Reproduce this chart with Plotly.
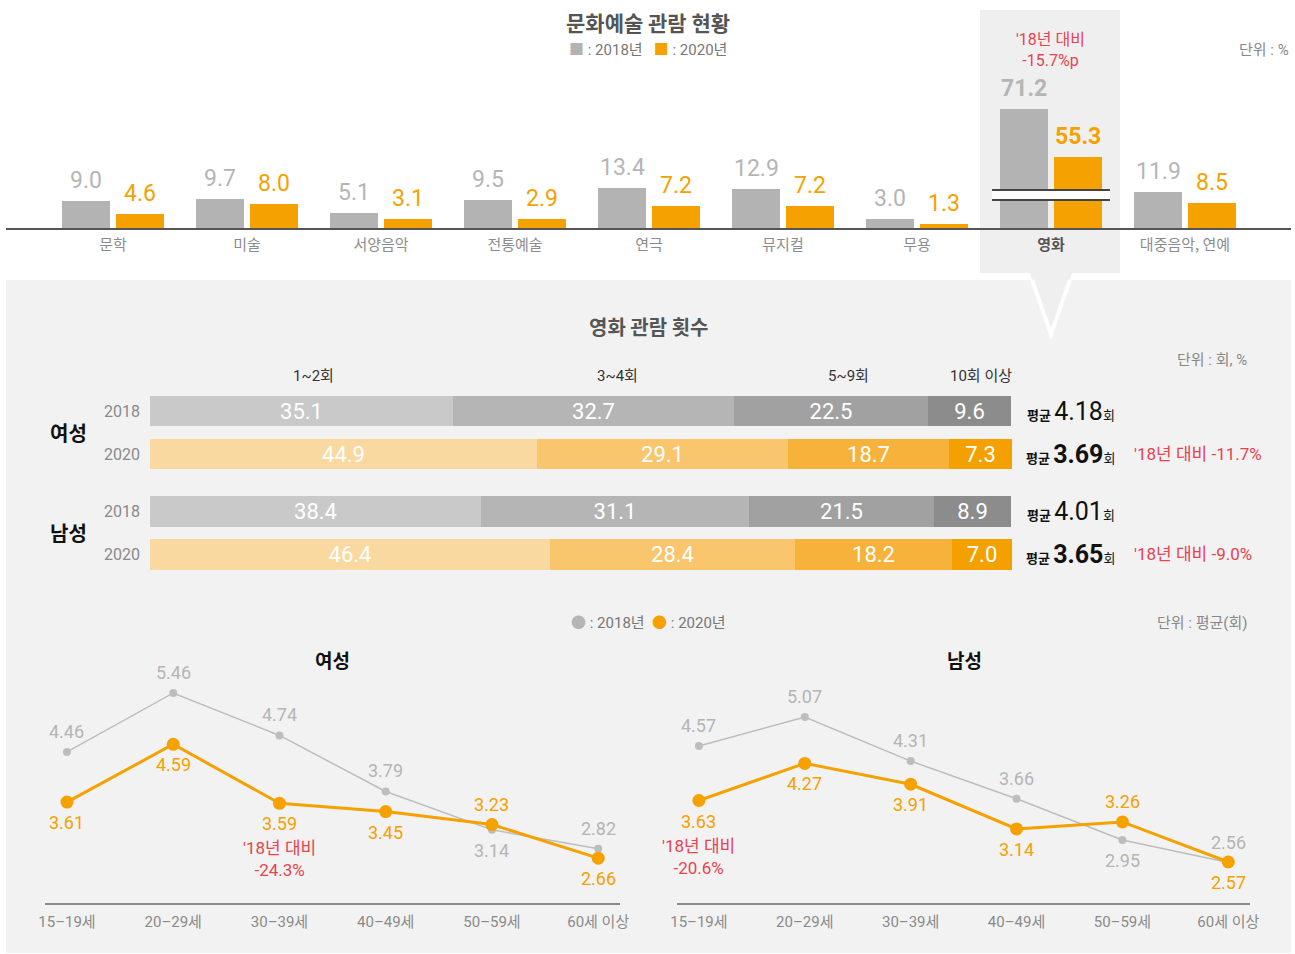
import plotly.graph_objects as go

W, H = 1295, 954

# ---------------- data ----------------
ARTS_CATEGORIES = ["문학", "미술", "서양음악", "전통예술", "연극", "뮤지컬", "무용", "영화", "대중음악, 연예"]
ARTS_2018 = [9.0, 9.7, 5.1, 9.5, 13.4, 12.9, 3.0, 71.2, 11.9]
ARTS_2020 = [4.6, 8.0, 3.1, 2.9, 7.2, 7.2, 1.3, 55.3, 8.5]
HIGHLIGHT = "영화"
HIGHLIGHT_NOTE = "'18년 대비<br>-15.7%p"
BREAK_CUT = 31.6  # amount removed by the axis break for the highlighted category

FREQ_BINS = ["1~2회", "3~4회", "5~9회", "10회 이상"]
GENDERS = ["여성", "남성"]
YEARS = ["2018", "2020"]
FREQ_FEMALE_2018 = [35.1, 32.7, 22.5, 9.6]
FREQ_FEMALE_2020 = [44.9, 29.1, 18.7, 7.3]
FREQ_MALE_2018 = [38.4, 31.1, 21.5, 8.9]
FREQ_MALE_2020 = [46.4, 28.4, 18.2, 7.0]
AVG_FEMALE = [4.18, 3.69]
AVG_MALE = [4.01, 3.65]
AVG_CHANGE_FEMALE = "'18년 대비 -11.7%"
AVG_CHANGE_MALE = "'18년 대비 -9.0%"

AGE_GROUPS = ["15–19세", "20–29세", "30–39세", "40–49세", "50–59세", "60세 이상"]
AGE_FEMALE_2018 = [4.46, 5.46, 4.74, 3.79, 3.14, 2.82]
AGE_FEMALE_2020 = [3.61, 4.59, 3.59, 3.45, 3.23, 2.66]
AGE_MALE_2018 = [4.57, 5.07, 4.31, 3.66, 2.95, 2.56]
AGE_MALE_2020 = [3.63, 4.27, 3.91, 3.14, 3.26, 2.57]
AGE_NOTE_FEMALE = (2, "'18년 대비<br>-24.3%")
AGE_NOTE_MALE = (0, "'18년 대비<br>-20.6%")

# ---------------- style ----------------
GRAY = "#b3b3b3"
ORANGE = "#f5a100"
RED = "#e8434f"
LBL_GRAY = "#b5b5b5"
GRAY_SHADES = ["#c9c9c9", "#b5b5b5", "#a1a1a1", "#8c8c8c"]
ORANGE_SHADES = ["#fad9a0", "#f9c66d", "#f6b23a", "#f4a100"]
NUM = "Roboto, 'Noto Sans CJK KR', sans-serif"
KR = "'Noto Sans CJK KR', 'Noto Sans', sans-serif"

F18_POS = [1, 1, 1, 1, -1, 1]
F20_POS = [-1, -1, -1, -1, 1, -1]
M18_POS = [1, 1, 1, 1, -1, 1]
M20_POS = [-1, -1, -1, -1, 1, -1]


def pxx(p):
    return p / W


def pxy(p):
    return 1 - p / H


def note(text, x, y, xref="paper", yref="paper", xanchor="center", yanchor="middle", size=15,
         color="#888888", family=NUM, **kw):
    d = dict(text=text, x=x, y=y, xref=xref, yref=yref, xanchor=xanchor, yanchor=yanchor,
             showarrow=False, font=dict(family=family, size=size, color=color))
    d.update(kw)
    return d


fig = go.Figure()
ann = []
shapes = []

# ---------------- top chart ----------------
n = len(ARTS_CATEGORIES)
idx = list(range(n))
hi = ARTS_CATEGORIES.index(HIGHLIGHT)
disp18 = [v - BREAK_CUT if c == HIGHLIGHT else v for c, v in zip(ARTS_CATEGORIES, ARTS_2018)]
disp20 = [v - BREAK_CUT if c == HIGHLIGHT else v for c, v in zip(ARTS_CATEGORIES, ARTS_2020)]
OFF = 0.2015
BW = 0.358
x18 = [i - OFF for i in idx]
x20 = [i + OFF for i in idx]
fig.add_trace(go.Bar(x=x18, y=disp18, width=BW, marker=dict(color=GRAY, line=dict(width=0)),
                     xaxis="x", yaxis="y", hoverinfo="skip"))
fig.add_trace(go.Bar(x=x20, y=disp20, width=BW, marker=dict(color=ORANGE, line=dict(width=0)),
                     xaxis="x", yaxis="y", hoverinfo="skip"))
for i in idx:
    bold = ARTS_CATEGORIES[i] == HIGHLIGHT
    t18 = f"{ARTS_2018[i]:.1f}"
    t20 = f"{ARTS_2020[i]:.1f}"
    ann.append(note(f"<b>{t18}</b>" if bold else t18, x18[i], disp18[i], "x", "y", yanchor="bottom",
                    yshift=5, size=23, color=LBL_GRAY))
    ann.append(note(f"<b>{t20}</b>" if bold else t20, x20[i], disp20[i], "x", "y", yanchor="bottom",
                    yshift=5, size=23, color=ORANGE))

ticktext = [f"<span style='color:#555555'><b>{c}</b></span>" if c == HIGHLIGHT else c for c in ARTS_CATEGORIES]

# break marks
shapes.append(dict(type="rect", xref="x", yref="y", x0=hi - 0.44, x1=hi + 0.44, y0=9.3, y1=12.7,
                   fillcolor="white", line=dict(width=0), layer="above"))
for yy in (9.3, 12.7):
    shapes.append(dict(type="line", xref="x", yref="y", x0=hi - 0.44, x1=hi + 0.44, y0=yy, y1=yy,
                       line=dict(color="#444444", width=2), layer="above"))

# highlight box, lower panel & pointer
shapes.append(dict(type="rect", xref="paper", yref="paper", x0=pxx(980), x1=pxx(1120), y0=pxy(273), y1=pxy(10),
                   fillcolor="#efefef", line=dict(width=0), layer="below"))
shapes.append(dict(type="rect", xref="paper", yref="paper", x0=pxx(6), x1=pxx(1291), y0=pxy(953), y1=pxy(280),
                   fillcolor="#f2f2f2", line=dict(width=0), layer="below"))
shapes.append(dict(type="path", xref="paper", yref="paper",
                   path=f"M{pxx(1030)},{pxy(273)} L{pxx(1051)},{pxy(335)} L{pxx(1072)},{pxy(273)} Z",
                   fillcolor="#efefef", line=dict(width=0), layer="below"))
shapes.append(dict(type="path", xref="paper", yref="paper",
                   path=f"M{pxx(1032)},{pxy(280)} L{pxx(1051)},{pxy(334)} L{pxx(1070)},{pxy(280)}",
                   line=dict(color="white", width=4), layer="below"))

ann += [
    note("<b>문화예술 관람 현황</b>", pxx(648), pxy(22), size=21, color="#555555", family=KR),
    note(f"<span style='color:{GRAY}'>■</span> : 2018년   <span style='color:{ORANGE}'>■</span> : 2020년",
         pxx(648), pxy(50), size=15, color="#777777"),
    note("단위 : %", pxx(1291), pxy(50), xanchor="right", size=15),
    note(HIGHLIGHT_NOTE, pxx(1050), pxy(50), size=16, color=RED),
]

# ---------------- stacked bars ----------------
GROUP_GAP = 2.33
rows = [
    (0, 0, FREQ_FEMALE_2018), (0, 1, FREQ_FEMALE_2020),
    (1, 0, FREQ_MALE_2018), (1, 1, FREQ_MALE_2020),
]
row_y = [g * GROUP_GAP + k for g, k, _ in rows]
for j, b in enumerate(FREQ_BINS):
    vals = [r[2][j] for r in rows]
    cols = [GRAY_SHADES[j] if r[1] == 0 else ORANGE_SHADES[j] for r in rows]
    fig.add_trace(go.Bar(x=vals, y=row_y, orientation="h", width=0.72,
                         marker=dict(color=cols, line=dict(width=0)),
                         text=[f"{v:.1f}" for v in vals], textposition="inside", insidetextanchor="middle",
                         textangle=0, constraintext="none",
                         textfont=dict(family=NUM, size=22, color="white"),
                         xaxis="x2", yaxis="y2", hoverinfo="skip"))

HEADER_X = [19, 54.2, 81, 96.4]
for hx, b in zip(HEADER_X, FREQ_BINS):
    ann.append(note(b, hx, pxy(376), "x2", "paper", size=15, color="#333333"))
for (g, k, _), yv in zip(rows, row_y):
    ann.append(note(YEARS[k], pxx(142), yv, "paper", "y2", xanchor="right", size=16, color="#8a8a8a"))
for g, gname in enumerate(GENDERS):
    ann.append(note(f"<b>{gname}</b>", pxx(68), g * GROUP_GAP + 0.5, "paper", "y2", size=20,
                    color="#111111", family=KR))
avgs = [AVG_FEMALE, AVG_MALE]
changes = [AVG_CHANGE_FEMALE, AVG_CHANGE_MALE]
for (g, k, _), yv in zip(rows, row_y):
    v = avgs[g][k]
    num = f"<b>{v:.2f}</b>" if k == 1 else f"{v:.2f}"
    txt = (f"<span style='font-size:13px'><b>평균</b></span> "
           f"<span style='font-size:25px'>{num}</span><span style='font-size:13px'>회</span>")
    ann.append(note(txt, pxx(1117), yv, "paper", "y2", xanchor="right", size=13, color="#111111"))
    if k == 1:
        ann.append(note(changes[g], pxx(1132), yv, "paper", "y2", xanchor="left", size=17, color=RED))
ann += [
    note("<b>영화 관람 횟수</b>", pxx(648), pxy(326), size=20, color="#555555", family=KR),
    note("단위 : 회, %", pxx(1249), pxy(360), xanchor="right", size=15),
]

# ---------------- line charts ----------------
ax = list(range(len(AGE_GROUPS)))
charts = [
    ("x3", "y3", AGE_FEMALE_2018, AGE_FEMALE_2020, F18_POS, F20_POS, AGE_NOTE_FEMALE, "여성", 333),
    ("x4", "y4", AGE_MALE_2018, AGE_MALE_2020, M18_POS, M20_POS, AGE_NOTE_MALE, "남성", 965),
]
for xa, ya, s18, s20, p18, p20, nt, title, tx in charts:
    fig.add_trace(go.Scatter(x=ax, y=s18, mode="lines+markers", line=dict(color="#bdbdbd", width=1.5),
                             marker=dict(color="#bdbdbd", size=8), xaxis=xa, yaxis=ya, hoverinfo="skip"))
    fig.add_trace(go.Scatter(x=ax, y=s20, mode="lines+markers", line=dict(color=ORANGE, width=3),
                             marker=dict(color=ORANGE, size=13), xaxis=xa, yaxis=ya, hoverinfo="skip"))
    for i in ax:
        for val, pos, col in ((s18[i], p18[i], LBL_GRAY), (s20[i], p20[i], ORANGE)):
            ann.append(note(f"{val:.2f}", i, val, xa, ya, yanchor="bottom" if pos > 0 else "top",
                            yshift=8 * pos, size=18, color=col))
    ann.append(note(nt[1], nt[0], s20[nt[0]], xa, ya, yanchor="top", yshift=-33, size=17, color=RED))
    ann.append(note(f"<b>{title}</b>", pxx(tx), pxy(659), size=19, color="#111111", family=KR))
ann += [
    note("<span style='color:#b5b5b5'>●</span> : 2018년  <span style='color:#f5a100'>●</span> : 2020년",
         pxx(648), pxy(623), size=15, color="#777777"),
    note("단위 : 평균(회)", pxx(1249), pxy(623), xanchor="right", size=15),
]

# ---------------- axes ----------------
hidden = dict(visible=False, fixedrange=True)
line_x = dict(showline=True, linecolor="#8a8a8a", linewidth=1.5, showgrid=False, zeroline=False, ticks="",
              tickvals=ax, ticktext=AGE_GROUPS, tickfont=dict(family=NUM, size=15, color="#8a8a8a"),
              range=[-0.207, 5.205], ticklabelstandoff=4, automargin=False)
fig.update_layout(
    width=W, height=H, autosize=False,
    margin=dict(l=0, r=0, t=0, b=0, pad=0, autoexpand=False), showlegend=False,
    paper_bgcolor="white", plot_bgcolor="rgba(0,0,0,0)", barmode="stack", bargap=0,
    xaxis=dict(domain=[pxx(6), pxx(1291)], range=[(6 - 113) / 134, (1291 - 113) / 134], showline=True,
               linecolor="#555555", linewidth=2, showgrid=False, zeroline=False, ticks="",
               tickvals=idx, ticktext=ticktext, tickfont=dict(family=KR, size=15, color="#8c8c8c"),
               ticklabelstandoff=2, automargin=False),
    yaxis=dict(domain=[pxy(228), pxy(60)], range=[0, 56], **hidden),
    xaxis2=dict(domain=[pxx(150), pxx(1012)], range=[0, 100], anchor="y2", **hidden),
    yaxis2=dict(domain=[pxy(575), pxy(390)], range=[(575 - 411) / 43, (390 - 411) / 43], anchor="x2", **hidden),
    xaxis3=dict(domain=[pxx(45), pxx(620)], anchor="y3", **line_x),
    yaxis3=dict(domain=[pxy(903), pxy(640)], range=[1.9, 1.9 + 263 / 59], anchor="x3", **hidden),
    xaxis4=dict(domain=[pxx(677), pxx(1250)], anchor="y4", **line_x),
    yaxis4=dict(domain=[pxy(903), pxy(640)], range=[1.863, 1.863 + 263 / 58], anchor="x4", **hidden),
    annotations=ann, shapes=shapes,
)
fig.write_html("out.html", config={"responsive": False})
